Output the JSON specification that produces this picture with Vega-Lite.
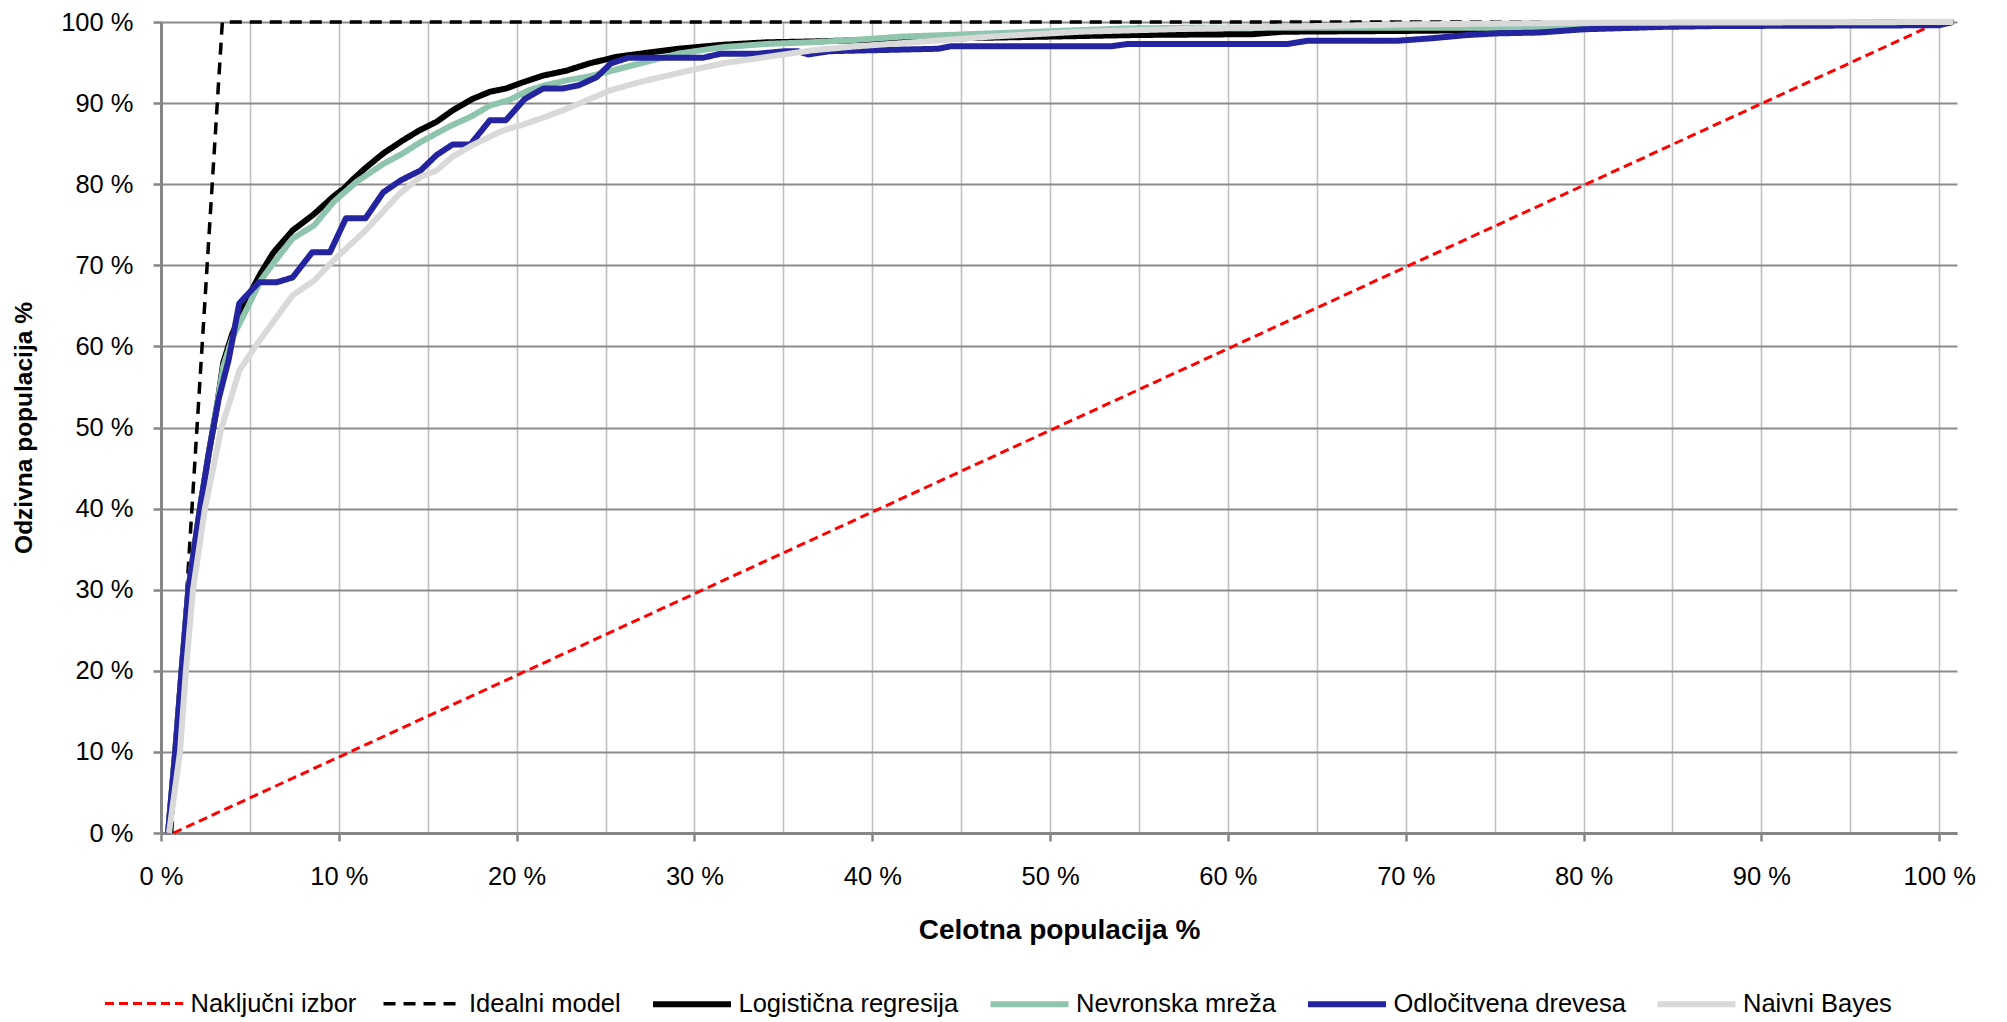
{
  "$schema": "https://vega.github.io/schema/vega-lite/v6.json",
  "width": 1796,
  "height": 811,
  "autosize": {"type": "none"},
  "padding": {"left": 161, "top": 22, "right": 50, "bottom": 189},
  "background": "white",
  "config": {
    "font": "Liberation Sans",
    "view": {"stroke": null},
    "legend": {
      "orient": "none",
      "legendX": -59,
      "legendY": 940,
      "direction": "horizontal",
      "columns": 6,
      "symbolType": "stroke",
      "symbolSize": 6084,
      "labelFontSize": 25.5,
      "labelFont": "Liberation Sans",
      "labelColor": "#000000",
      "columnPadding": 19.5,
      "labelOffset": 4.5,
      "padding": 0,
      "labelLimit": 400
    }
  },
  "data": {
    "values": [
      {"s": "Naključni izbor", "x": 0.7, "y": 0},
      {"s": "Naključni izbor", "x": 100, "y": 100},
      {"s": "Idealni model", "x": 0.6, "y": 0},
      {"s": "Idealni model", "x": 3.45, "y": 100},
      {"s": "Idealni model", "x": 100.8, "y": 100},
      {"s": "Logistična regresija", "x": 0.4, "y": 0},
      {"s": "Logistična regresija", "x": 0.8, "y": 10},
      {"s": "Logistična regresija", "x": 1.16, "y": 20},
      {"s": "Logistična regresija", "x": 1.54, "y": 30},
      {"s": "Logistična regresija", "x": 2.19, "y": 40},
      {"s": "Logistična regresija", "x": 2.7, "y": 47},
      {"s": "Logistična regresija", "x": 3.2, "y": 53.4},
      {"s": "Logistična regresija", "x": 3.5, "y": 58},
      {"s": "Logistična regresija", "x": 4.0, "y": 61.5},
      {"s": "Logistična regresija", "x": 4.5, "y": 64},
      {"s": "Logistična regresija", "x": 5.0, "y": 66.5},
      {"s": "Logistična regresija", "x": 5.6, "y": 69},
      {"s": "Logistična regresija", "x": 6.3, "y": 71.5},
      {"s": "Logistična regresija", "x": 7.0, "y": 73.3},
      {"s": "Logistična regresija", "x": 7.4, "y": 74.3},
      {"s": "Logistična regresija", "x": 8.0, "y": 75.3},
      {"s": "Logistična regresija", "x": 8.6, "y": 76.3},
      {"s": "Logistična regresija", "x": 9.2, "y": 77.5},
      {"s": "Logistična regresija", "x": 9.7, "y": 78.5},
      {"s": "Logistična regresija", "x": 10.3, "y": 79.5},
      {"s": "Logistična regresija", "x": 10.8, "y": 80.6},
      {"s": "Logistična regresija", "x": 11.5, "y": 82},
      {"s": "Logistična regresija", "x": 12.5, "y": 83.8},
      {"s": "Logistična regresija", "x": 13.6, "y": 85.4},
      {"s": "Logistična regresija", "x": 14.5, "y": 86.6},
      {"s": "Logistična regresija", "x": 15.5, "y": 87.7},
      {"s": "Logistična regresija", "x": 16.4, "y": 89.1},
      {"s": "Logistična regresija", "x": 17.5, "y": 90.5},
      {"s": "Logistična regresija", "x": 18.5, "y": 91.4},
      {"s": "Logistična regresija", "x": 19.4, "y": 91.8},
      {"s": "Logistična regresija", "x": 20.4, "y": 92.6},
      {"s": "Logistična regresija", "x": 21.5, "y": 93.4},
      {"s": "Logistična regresija", "x": 22.8, "y": 94},
      {"s": "Logistična regresija", "x": 24.1, "y": 94.9},
      {"s": "Logistična regresija", "x": 25.6, "y": 95.7},
      {"s": "Logistična regresija", "x": 26.6, "y": 96},
      {"s": "Logistična regresija", "x": 29.1, "y": 96.7},
      {"s": "Logistična regresija", "x": 31.6, "y": 97.2},
      {"s": "Logistična regresija", "x": 34.1, "y": 97.5},
      {"s": "Logistična regresija", "x": 36.6, "y": 97.6},
      {"s": "Logistična regresija", "x": 40, "y": 97.8},
      {"s": "Logistična regresija", "x": 45, "y": 98.0},
      {"s": "Logistična regresija", "x": 50, "y": 98.2},
      {"s": "Logistična regresija", "x": 55, "y": 98.4},
      {"s": "Logistična regresija", "x": 61.4, "y": 98.5},
      {"s": "Logistična regresija", "x": 63.1, "y": 98.8},
      {"s": "Logistična regresija", "x": 70, "y": 98.9},
      {"s": "Logistična regresija", "x": 75, "y": 99},
      {"s": "Logistična regresija", "x": 80, "y": 99.5},
      {"s": "Logistična regresija", "x": 90, "y": 99.8},
      {"s": "Logistična regresija", "x": 100.8, "y": 100},
      {"s": "Nevronska mreža", "x": 0.4, "y": 0},
      {"s": "Nevronska mreža", "x": 0.8, "y": 10},
      {"s": "Nevronska mreža", "x": 1.16, "y": 20},
      {"s": "Nevronska mreža", "x": 1.54, "y": 30},
      {"s": "Nevronska mreža", "x": 2.19, "y": 40},
      {"s": "Nevronska mreža", "x": 2.7, "y": 47},
      {"s": "Nevronska mreža", "x": 3.2, "y": 53.4},
      {"s": "Nevronska mreža", "x": 3.5, "y": 57.5},
      {"s": "Nevronska mreža", "x": 4.0, "y": 61},
      {"s": "Nevronska mreža", "x": 4.8, "y": 64.5},
      {"s": "Nevronska mreža", "x": 5.6, "y": 68.1},
      {"s": "Nevronska mreža", "x": 6.3, "y": 70.2},
      {"s": "Nevronska mreža", "x": 7.4, "y": 73.3},
      {"s": "Nevronska mreža", "x": 8.6, "y": 74.9},
      {"s": "Nevronska mreža", "x": 9.7, "y": 77.8},
      {"s": "Nevronska mreža", "x": 11, "y": 80.3},
      {"s": "Nevronska mreža", "x": 12.5, "y": 82.5},
      {"s": "Nevronska mreža", "x": 13.6, "y": 83.8},
      {"s": "Nevronska mreža", "x": 14.6, "y": 85.2},
      {"s": "Nevronska mreža", "x": 16.2, "y": 87.1},
      {"s": "Nevronska mreža", "x": 17.4, "y": 88.3},
      {"s": "Nevronska mreža", "x": 18.5, "y": 89.7},
      {"s": "Nevronska mreža", "x": 19.6, "y": 90.4},
      {"s": "Nevronska mreža", "x": 20.7, "y": 91.6},
      {"s": "Nevronska mreža", "x": 21.6, "y": 92.2},
      {"s": "Nevronska mreža", "x": 22.8, "y": 92.8},
      {"s": "Nevronska mreža", "x": 24.1, "y": 93.3},
      {"s": "Nevronska mreža", "x": 25, "y": 93.8},
      {"s": "Nevronska mreža", "x": 26.6, "y": 94.7},
      {"s": "Nevronska mreža", "x": 29.1, "y": 96.1},
      {"s": "Nevronska mreža", "x": 31.6, "y": 96.9},
      {"s": "Nevronska mreža", "x": 34.1, "y": 97.3},
      {"s": "Nevronska mreža", "x": 36.6, "y": 97.5},
      {"s": "Nevronska mreža", "x": 39.1, "y": 97.8},
      {"s": "Nevronska mreža", "x": 41.7, "y": 98.2},
      {"s": "Nevronska mreža", "x": 44.2, "y": 98.4},
      {"s": "Nevronska mreža", "x": 46.7, "y": 98.6},
      {"s": "Nevronska mreža", "x": 49.2, "y": 98.8},
      {"s": "Nevronska mreža", "x": 51.7, "y": 99},
      {"s": "Nevronska mreža", "x": 54.2, "y": 99.2},
      {"s": "Nevronska mreža", "x": 58.4, "y": 99.3},
      {"s": "Nevronska mreža", "x": 75, "y": 99.3},
      {"s": "Nevronska mreža", "x": 80, "y": 99.5},
      {"s": "Nevronska mreža", "x": 90, "y": 99.8},
      {"s": "Nevronska mreža", "x": 100.8, "y": 100},
      {"s": "Odločitvena drevesa", "x": 0.4, "y": 0},
      {"s": "Odločitvena drevesa", "x": 0.8, "y": 10},
      {"s": "Odločitvena drevesa", "x": 1.16, "y": 20},
      {"s": "Odločitvena drevesa", "x": 1.54, "y": 30},
      {"s": "Odločitvena drevesa", "x": 2.19, "y": 40},
      {"s": "Odločitvena drevesa", "x": 2.7, "y": 47},
      {"s": "Odločitvena drevesa", "x": 3.25, "y": 53.6},
      {"s": "Odločitvena drevesa", "x": 3.8, "y": 58.3},
      {"s": "Odločitvena drevesa", "x": 4.4, "y": 65.3},
      {"s": "Odločitvena drevesa", "x": 5.5, "y": 67.9},
      {"s": "Odločitvena drevesa", "x": 6.5, "y": 67.9},
      {"s": "Odločitvena drevesa", "x": 7.4, "y": 68.5},
      {"s": "Odločitvena drevesa", "x": 8.5, "y": 71.6},
      {"s": "Odločitvena drevesa", "x": 9.5, "y": 71.6},
      {"s": "Odločitvena drevesa", "x": 10.4, "y": 75.8},
      {"s": "Odločitvena drevesa", "x": 11.5, "y": 75.8},
      {"s": "Odločitvena drevesa", "x": 12.5, "y": 79},
      {"s": "Odločitvena drevesa", "x": 13.5, "y": 80.5},
      {"s": "Odločitvena drevesa", "x": 14.6, "y": 81.7},
      {"s": "Odločitvena drevesa", "x": 15.5, "y": 83.6},
      {"s": "Odločitvena drevesa", "x": 16.4, "y": 84.9},
      {"s": "Odločitvena drevesa", "x": 17.4, "y": 84.9},
      {"s": "Odločitvena drevesa", "x": 18.5, "y": 87.9},
      {"s": "Odločitvena drevesa", "x": 19.4, "y": 87.9},
      {"s": "Odločitvena drevesa", "x": 20.45, "y": 90.5},
      {"s": "Odločitvena drevesa", "x": 21.5, "y": 91.8},
      {"s": "Odločitvena drevesa", "x": 22.6, "y": 91.8},
      {"s": "Odločitvena drevesa", "x": 23.5, "y": 92.2},
      {"s": "Odločitvena drevesa", "x": 24.5, "y": 93.2},
      {"s": "Odločitvena drevesa", "x": 25.3, "y": 94.9},
      {"s": "Odločitvena drevesa", "x": 26.3, "y": 95.6},
      {"s": "Odločitvena drevesa", "x": 30.5, "y": 95.6},
      {"s": "Odločitvena drevesa", "x": 31.5, "y": 96.1},
      {"s": "Odločitvena drevesa", "x": 33.6, "y": 96.1},
      {"s": "Odločitvena drevesa", "x": 35.1, "y": 96.4},
      {"s": "Odločitvena drevesa", "x": 35.8, "y": 96.4},
      {"s": "Odločitvena drevesa", "x": 36.4, "y": 96.0},
      {"s": "Odločitvena drevesa", "x": 37.6, "y": 96.4},
      {"s": "Odločitvena drevesa", "x": 43.7, "y": 96.7},
      {"s": "Odločitvena drevesa", "x": 44.4, "y": 97},
      {"s": "Odločitvena drevesa", "x": 53.4, "y": 97},
      {"s": "Odločitvena drevesa", "x": 54.4, "y": 97.3},
      {"s": "Odločitvena drevesa", "x": 63.4, "y": 97.3},
      {"s": "Odločitvena drevesa", "x": 64.5, "y": 97.7},
      {"s": "Odločitvena drevesa", "x": 69.6, "y": 97.7},
      {"s": "Odločitvena drevesa", "x": 71.5, "y": 98},
      {"s": "Odločitvena drevesa", "x": 73.5, "y": 98.4},
      {"s": "Odločitvena drevesa", "x": 75.2, "y": 98.6},
      {"s": "Odločitvena drevesa", "x": 77.5, "y": 98.7},
      {"s": "Odločitvena drevesa", "x": 80, "y": 99.1},
      {"s": "Odločitvena drevesa", "x": 84.5, "y": 99.4},
      {"s": "Odločitvena drevesa", "x": 87.4, "y": 99.5},
      {"s": "Odločitvena drevesa", "x": 100, "y": 99.6},
      {"s": "Odločitvena drevesa", "x": 100.8, "y": 100},
      {"s": "Naivni Bayes", "x": 0.45, "y": 0},
      {"s": "Naivni Bayes", "x": 1.07, "y": 10},
      {"s": "Naivni Bayes", "x": 1.4, "y": 20},
      {"s": "Naivni Bayes", "x": 1.8, "y": 30},
      {"s": "Naivni Bayes", "x": 2.47, "y": 40},
      {"s": "Naivni Bayes", "x": 3.4, "y": 50},
      {"s": "Naivni Bayes", "x": 3.9, "y": 53.4},
      {"s": "Naivni Bayes", "x": 4.4, "y": 57},
      {"s": "Naivni Bayes", "x": 5.4, "y": 60.3},
      {"s": "Naivni Bayes", "x": 6.5, "y": 63.6},
      {"s": "Naivni Bayes", "x": 7.4, "y": 66.3},
      {"s": "Naivni Bayes", "x": 8.6, "y": 68.1},
      {"s": "Naivni Bayes", "x": 9.7, "y": 70.6},
      {"s": "Naivni Bayes", "x": 11.6, "y": 74.5},
      {"s": "Naivni Bayes", "x": 13.4, "y": 78.8},
      {"s": "Naivni Bayes", "x": 14.6, "y": 80.9},
      {"s": "Naivni Bayes", "x": 15.5, "y": 81.7},
      {"s": "Naivni Bayes", "x": 16.4, "y": 83.4},
      {"s": "Naivni Bayes", "x": 17.5, "y": 84.8},
      {"s": "Naivni Bayes", "x": 19.2, "y": 86.6},
      {"s": "Naivni Bayes", "x": 20.3, "y": 87.3},
      {"s": "Naivni Bayes", "x": 21.6, "y": 88.3},
      {"s": "Naivni Bayes", "x": 22.6, "y": 89.1},
      {"s": "Naivni Bayes", "x": 24.1, "y": 90.5},
      {"s": "Naivni Bayes", "x": 25.3, "y": 91.6},
      {"s": "Naivni Bayes", "x": 26.6, "y": 92.4},
      {"s": "Naivni Bayes", "x": 27.9, "y": 93.1},
      {"s": "Naivni Bayes", "x": 30.1, "y": 94.2},
      {"s": "Naivni Bayes", "x": 31.6, "y": 94.9},
      {"s": "Naivni Bayes", "x": 34.1, "y": 95.7},
      {"s": "Naivni Bayes", "x": 36.6, "y": 96.5},
      {"s": "Naivni Bayes", "x": 39.1, "y": 97},
      {"s": "Naivni Bayes", "x": 41.7, "y": 97.4},
      {"s": "Naivni Bayes", "x": 44.2, "y": 97.8},
      {"s": "Naivni Bayes", "x": 46.7, "y": 98.2},
      {"s": "Naivni Bayes", "x": 51.7, "y": 98.8},
      {"s": "Naivni Bayes", "x": 58.4, "y": 99.2},
      {"s": "Naivni Bayes", "x": 65, "y": 99.5},
      {"s": "Naivni Bayes", "x": 70, "y": 99.7},
      {"s": "Naivni Bayes", "x": 80, "y": 99.9},
      {"s": "Naivni Bayes", "x": 100.8, "y": 100}
    ]
  },
  "encoding": {
    "x": {
      "field": "x",
      "type": "quantitative",
      "scale": {"domain": [0, 101], "nice": false, "zero": false},
      "axis": {
        "values": [0, 5, 10, 15, 20, 25, 30, 35, 40, 45, 50, 55, 60, 65, 70, 75, 80, 85, 90, 95, 100],
        "labelExpr": "datum.value % 10 === 0 ? datum.value + ' %' : ''",
        "tickOpacity": {"condition": {"test": "datum.value % 10 !== 0", "value": 0}, "value": 1},
        "tickSize": 8,
        "tickWidth": 2.5,
        "tickColor": "#868686",
        "domainColor": "#868686",
        "domainWidth": 3,
        "grid": true,
        "gridColor": "#c0c0c0",
        "gridWidth": 1.6,
        "labelFontSize": 25.5,
        "labelColor": "#000000",
        "labelPadding": 23,
        "labelDx": 9,
        "labelFlush": false,
        "labelOverlap": false,
        "title": "Celotna populacija %",
        "titleFontSize": 28,
        "titleFontWeight": "bold",
        "titleColor": "#000000",
        "titlePadding": 27
      }
    },
    "y": {
      "field": "y",
      "type": "quantitative",
      "scale": {"domain": [0, 100], "nice": false},
      "axis": {
        "values": [0, 10, 20, 30, 40, 50, 60, 70, 80, 90, 100],
        "labelExpr": "datum.value + ' %'",
        "tickSize": 8,
        "tickWidth": 2.5,
        "tickColor": "#868686",
        "domainColor": "#868686",
        "domainWidth": 3,
        "grid": true,
        "gridColor": "#8c8c8c",
        "gridWidth": 2,
        "labelFontSize": 25.5,
        "labelColor": "#000000",
        "labelPadding": 20,
        "labelOverlap": false,
        "title": "Odzivna populacija %",
        "titleFontSize": 24.5,
        "titleFontWeight": "bold",
        "titleColor": "#000000",
        "titlePadding": 24
      }
    },
    "color": {
      "field": "s",
      "type": "nominal",
      "scale": {
        "domain": ["Naključni izbor", "Idealni model", "Logistična regresija", "Nevronska mreža", "Odločitvena drevesa", "Naivni Bayes"],
        "range": ["#ff0000", "#000000", "#000000", "#8fc4ad", "#2424a0", "#d9d9d9"]
      },
      "legend": {"title": null}
    },
    "strokeDash": {
      "field": "s",
      "type": "nominal",
      "scale": {
        "domain": ["Naključni izbor", "Idealni model", "Logistična regresija", "Nevronska mreža", "Odločitvena drevesa", "Naivni Bayes"],
        "range": [[9, 5], [12, 8], [1, 0], [1, 0], [1, 0], [1, 0]]
      },
      "legend": {"title": null}
    },
    "strokeWidth": {
      "field": "s",
      "type": "nominal",
      "scale": {
        "type": "ordinal",
        "domain": ["Naključni izbor", "Idealni model", "Logistična regresija", "Nevronska mreža", "Odločitvena drevesa", "Naivni Bayes"],
        "range": [3, 3.5, 6, 6, 6, 6]
      },
      "legend": {"title": null}
    }
  },
  "layer": [
    {"transform": [{"filter": "datum.s === 'Naključni izbor'"}], "mark": {"type": "line", "strokeCap": "butt"}},
    {"transform": [{"filter": "datum.s === 'Idealni model'"}], "mark": {"type": "line", "strokeCap": "butt"}},
    {"transform": [{"filter": "datum.s === 'Logistična regresija'"}], "mark": {"type": "line", "strokeJoin": "round"}},
    {"transform": [{"filter": "datum.s === 'Nevronska mreža'"}], "mark": {"type": "line", "strokeJoin": "round"}},
    {"transform": [{"filter": "datum.s === 'Odločitvena drevesa'"}], "mark": {"type": "line", "strokeJoin": "round"}},
    {"transform": [{"filter": "datum.s === 'Naivni Bayes'"}], "mark": {"type": "line", "strokeJoin": "round"}}
  ]
}
